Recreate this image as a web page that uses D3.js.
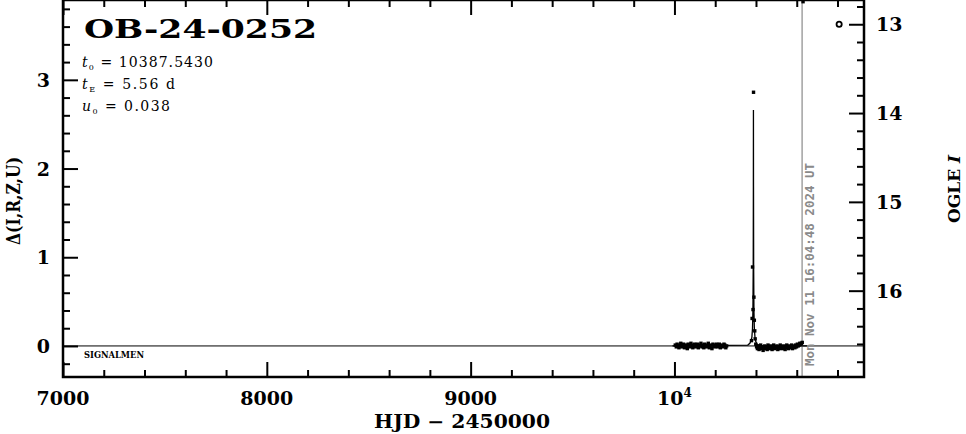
<!DOCTYPE html>
<html><head><meta charset="utf-8">
<script src="https://cdn.jsdelivr.net/npm/d3@7"></script>
<style>body{margin:0;background:#fff}svg{display:block}</style>
</head><body>
<svg id="c" width="966" height="434"></svg>
<script>
// ---- data ----
const xMajor = [7000, 8000, 9000, 10000];
const xMajorLabels = ["7000", "8000", "9000", "10"];
const yMajor = [0, 1, 2, 3];
const magMajor = [13, 14, 15, 16];
const obsT = [10004,10009,10013,10018,10022,10027,10031,10036,10040,10045,10049,10054,10058,10063,10067,10072,10076,10081,10085,10090,10094,10099,10103,10108,10112,10117,10121,10126,10130,10135,10139,10144,10148,10153,10157,10162,10166,10171,10175,10180,10184,10189,10193,10198,10202,10207,10211,10216,10220,10225,10229,10234,10238,10243,10247,10252,10256,
 10378,10381,10383,10385.5,10388,10390,10392,10394,10396,
 10399,10403,10407,10411,10415,10419,10423,10427,10431,10435,10439,10443,10447,10451,10455,10459,10463,10467,10471,10475,10479,10483,10487,10491,10495,10499,10503,10507,10511,10515,10519,10523,10527,10531,10535,10539,10543,10547,10551,10555,10559,10563,10567,10571,10575,10579,10583,10587,10591,10595,10599,10603,10607,10611,10615,10619,10623,10627,10631];
const obsD = [0.01,-0.01,0.02,0.0,-0.02,0.01,0.03,-0.01,0.0,0.02,-0.02,0.01,0.0,-0.03,0.02,0.01,-0.01,0.03,0.0,-0.02,0.01,0.02,-0.01,0.0,0.02,-0.02,0.01,0.0,0.03,-0.01,0.01,-0.02,0.02,0.0,-0.01,0.01,0.03,-0.02,0.0,0.01,-0.03,0.02,0.0,-0.01,0.01,0.02,-0.01,0.0,0.02,-0.02,0.01,0.0,-0.01,0.02,0.01,-0.02,0.0,
 0.06,0.31,0.89,0.41,2.86,0.55,0.29,0.17,0.08,
 0.02,-0.01,-0.03,0.0,-0.04,-0.02,0.01,-0.03,-0.01,-0.05,-0.02,0.0,-0.03,-0.01,-0.04,0.01,-0.02,-0.03,0.0,-0.01,-0.04,-0.02,0.01,-0.03,-0.01,-0.02,0.0,-0.04,-0.01,-0.03,0.01,-0.02,-0.01,-0.03,0.0,-0.02,-0.04,-0.01,0.01,-0.02,-0.03,0.0,-0.01,-0.02,0.01,-0.03,-0.01,0.0,-0.02,0.01,-0.01,0.02,0.0,0.01,0.03,0.02,0.03,0.04];
const modelT = [9990,10360,10370,10376,10380,10383,10385,10386.5,10387.2,10387.54,10387.9,10388.6,10390,10392,10395,10399,10405,10420,10650];
const modelD = [0.0,0.01,0.03,0.06,0.1,0.2,0.4,0.9,1.8,2.66,1.8,0.9,0.4,0.2,0.1,0.05,0.02,0.0,0.0];
const titleText = "OB-24-0252";
const params = [["t","0"," = 10387.5430"],["t","E"," = 5.56 d"],["u","0"," = 0.038"]];
const paramWidths = [131, 93, 88];
const dateT = 10626.25;
const stampText = "Mon Nov 11 16:04:48 2024 UT";
const refMarkT = 10808, refMarkMag = 13;

// ---- layout ----
const L = 63, R = 864, T = 0, B = 377;
const x = d3.scaleLinear().domain([7000, 10930]).range([L, R]);
const y = d3.scaleLinear().domain([-0.35, 3.9]).range([B, T]);
const m = d3.scaleLinear().domain([12.727, 16.972]).range([T, B]);
const svg = d3.select("#c");
const serif = "'DejaVu Serif', serif";

const xMinor = d3.range(7000, 10930, 200).filter(v => v % 1000 !== 0);
const yMinor = d3.range(-0.2, 3.9, 0.2).map(v => +v.toFixed(1)).filter(v => Math.abs(v - Math.round(v)) > 1e-6);
const magMinor = d3.range(12.8, 16.98, 0.2).map(v => +v.toFixed(1)).filter(v => Math.abs(v - Math.round(v)) > 1e-6);

function ax(gen, scale, vals, size, tr) {
  const g = svg.append("g").attr("transform", tr)
    .call(gen(scale).tickValues(vals).tickSize(size).tickFormat(""));
  g.select(".domain").remove();
  g.selectAll("line").attr("stroke", "#000").attr("stroke-width", 2);
}
ax(d3.axisBottom, x, xMajor, -15, `translate(0,${B})`);
ax(d3.axisBottom, x, xMinor, -7, `translate(0,${B})`);
ax(d3.axisTop, x, xMajor, -15, `translate(0,${T})`);
ax(d3.axisTop, x, xMinor, -7, `translate(0,${T})`);
ax(d3.axisLeft, y, yMajor, -15, `translate(${L},0)`);
ax(d3.axisLeft, y, yMinor, -7, `translate(${L},0)`);
ax(d3.axisRight, m, magMajor, -15, `translate(${R},0)`);
ax(d3.axisRight, m, magMinor, -7, `translate(${R},0)`);

// zero line
svg.append("line").attr("x1", L).attr("x2", R).attr("y1", y(0)).attr("y2", y(0))
  .attr("stroke", "#000").attr("stroke-width", 1);

// date line
svg.append("line").attr("x1", x(dateT)).attr("x2", x(dateT)).attr("y1", T).attr("y2", B)
  .attr("stroke", "#8a8a8a").attr("stroke-width", 1.2);
svg.append("text").attr("transform", `translate(${x(dateT) + 12},366) rotate(-90)`)
  .attr("font-family", "'DejaVu Sans Mono', monospace").attr("font-weight", "bold")
  .attr("font-size", 11.5).attr("fill", "#8a8a8a")
  .attr("textLength", 203).attr("lengthAdjust", "spacingAndGlyphs").text(stampText);

// model line
const line = d3.line().x(i => x(modelT[i])).y(i => y(modelD[i]));
svg.append("path").attr("d", line(d3.range(modelT.length))).attr("fill", "none")
  .attr("stroke", "#000").attr("stroke-width", 1.3);

// points
svg.append("g").selectAll("rect").data(d3.range(obsT.length)).join("rect")
  .attr("x", i => x(obsT[i]) - 1.7).attr("y", i => y(obsD[i]) - 1.7)
  .attr("width", 3.4).attr("height", 3.4).attr("fill", "#000");

// ref mark
svg.append("circle").attr("cx", x(refMarkT)).attr("cy", m(refMarkMag)).attr("r", 2.6)
  .attr("fill", "none").attr("stroke", "#000").attr("stroke-width", 1.8);

// frame
svg.append("rect").attr("x", L).attr("y", T).attr("width", R - L).attr("height", B - T)
  .attr("fill", "none").attr("stroke", "#000").attr("stroke-width", 2.5);

// tick labels
const lab = svg.append("g").attr("font-family", serif).attr("font-weight", "bold").attr("font-size", 19).attr("fill", "#000");
xMajor.forEach((v, i) => {
  const t = lab.append("text").attr("x", x(v)).attr("y", 405).attr("text-anchor", "middle");
  t.append("tspan").text(xMajorLabels[i]);
  if (v === 10000) t.append("tspan").attr("font-size", 12).attr("dy", -8).text("4");
});
yMajor.forEach(v => lab.append("text").attr("x", 50).attr("y", y(v) + 7).attr("text-anchor", "end").text(v));
magMajor.forEach(v => lab.append("text").attr("x", 876).attr("y", m(v) + 7).text(v));

// axis titles
svg.append("text").attr("x", 462).attr("y", 428).attr("text-anchor", "middle")
  .attr("font-family", serif).attr("font-weight", "bold").attr("font-size", 18)
  .attr("textLength", 176).attr("lengthAdjust", "spacingAndGlyphs").text("HJD − 2450000");
svg.append("text").attr("transform", "translate(20,201) rotate(-90)").attr("text-anchor", "middle")
  .attr("font-family", serif).attr("font-weight", "bold").attr("font-size", 18)
  .attr("textLength", 88).attr("lengthAdjust", "spacingAndGlyphs").text("Δ(I,R,Z,U)");
const og = svg.append("text").attr("transform", "translate(960,189) rotate(-90)").attr("text-anchor", "middle")
  .attr("font-family", serif).attr("font-weight", "bold").attr("font-size", 17);
og.append("tspan").text("OGLE ");
og.append("tspan").attr("font-style", "italic").text("I");

// title
svg.append("text").attr("x", 84).attr("y", 38).attr("font-family", serif).attr("font-weight", "bold")
  .attr("font-size", 26).attr("textLength", 233).attr("lengthAdjust", "spacingAndGlyphs").text(titleText);

// params
params.forEach((p, i) => {
  const t = svg.append("text").attr("x", 82).attr("y", 67 + i * 22).attr("font-family", serif)
    .attr("font-size", 14).attr("fill", "#000")
    .attr("textLength", paramWidths[i]).attr("lengthAdjust", "spacing");
  t.append("tspan").attr("font-style", "italic").text(p[0]);
  t.append("tspan").attr("font-size", 8).attr("dy", 3).text(p[1]);
  t.append("tspan").attr("dy", -3).text(p[2]);
});

// signalmen
svg.append("text").attr("x", 84).attr("y", 358).attr("font-family", serif).attr("font-weight", "bold")
  .attr("font-size", 8.5).attr("textLength", 60).attr("lengthAdjust", "spacingAndGlyphs").text("SIGNALMEN");
</script>
</body></html>
